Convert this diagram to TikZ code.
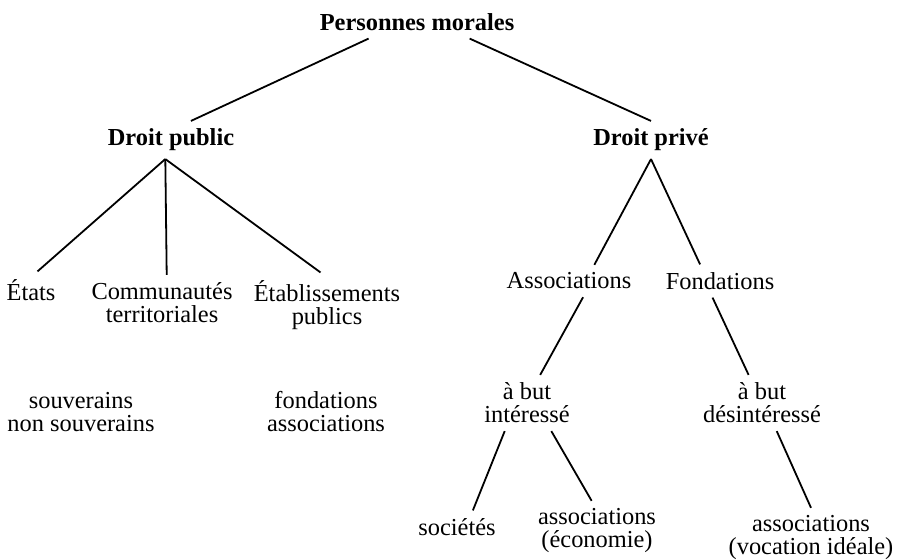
\documentclass[tikz,border=0pt]{standalone}
\usepackage{fontspec}
\setmainfont{Liberation Serif}
\usetikzlibrary{positioning, calc}

\begin{document}
\begin{tikzpicture}[x=0.5pt, y=-0.5pt,
		font=\fontsize{12.2}{11.5}\selectfont,
		txt/.style={align=center, inner sep=2pt, outer sep=2pt},
		head/.style={txt, font=\fontsize{12.2}{11.5}\selectfont\bfseries},
		branch/.style={line width=0.9pt}]
			\useasboundingbox (0,0) rectangle (898,559);
			% first levels
			\node[head] (pm) at (417,22) {Personnes morales};
			\node[head] (dpub) at (171,140) {Droit public};
			\node[head] (dpriv) at (651,140) {Droit privé};
			% droit public
			\node[txt] (etats) at (31,290) {États};
			\node[txt] (comm) at (162,303) {Communautés\\territoriales};
			\node[txt] (etab) at (327,305) {Établissements\\publics};
			\node[txt] (souv) at (81,412) {souverains\\non souverains};
			\node[txt] (fondass) at (326,412) {fondations\\associations};
			% droit prive
			\node[txt] (assoc) at (569,281) {Associations};
			\node[txt] (fond) at (720,281) {Fondations};
			\node[txt] (inter) at (527,403) {à but\\intéressé};
			\node[txt] (desint) at (762,403) {à but\\désintéressé};
			\node[txt] (societes) at (457,527) {sociétés};
			\node[txt] (asseco) at (597,531) {associations\\(économie)};
			\node[txt] (assvoc) at (811,538) {associations\\(vocation idéale)};

			\coordinate (dpubfan) at ($(dpub.south west)!.46!(dpub.south east)$);
			\draw[branch] ($(pm.south west)!.27!(pm.south east)$) -- ($(dpub.north west)!.64!(dpub.north east)$);
			\draw[branch] ($(pm.south west)!.75!(pm.south east)$) -- (dpriv.north);
			\draw[branch] (dpubfan) -- ($(etats.north west)!.6!(etats.north east)$);
			\draw[branch] (dpubfan) -- ($(comm.north west)!.53!(comm.north east)$);
			\draw[branch] (dpubfan) -- ($(etab.north west)!.46!(etab.north east)$);
			\draw[branch] (dpriv.south) -- ($(assoc.north west)!.68!(assoc.north east)$);
			\draw[branch] (dpriv.south) -- ($(fond.north west)!.34!(fond.north east)$);
			\draw[branch] ($(assoc.south west)!.6!(assoc.south east)$) -- ($(inter.north west)!.63!(inter.north east)$);
			\draw[branch] ($(fond.south west)!.44!(fond.south east)$) -- ($(desint.north west)!.4!(desint.north east)$);
			\draw[branch] ($(inter.south west)!.28!(inter.south east)$) -- ($(societes.north west)!.67!(societes.north east)$);
			\draw[branch] ($(inter.south west)!.74!(inter.south east)$) -- ($(asseco.north west)!.46!(asseco.north east)$);
			\draw[branch] ($(desint.south west)!.61!(desint.south east)$) -- (assvoc.north);
		\end{tikzpicture}
\end{document}
